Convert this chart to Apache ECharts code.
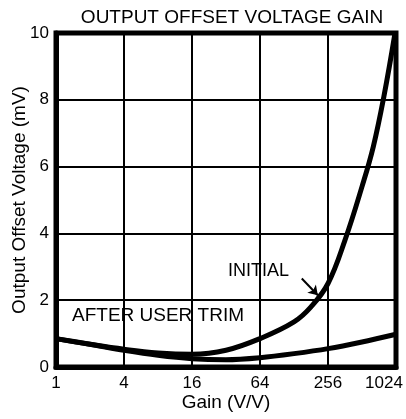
<!DOCTYPE html>
<html>
<head>
<meta charset="utf-8">
<script src="https://cdn.jsdelivr.net/npm/echarts@6/dist/echarts.min.js"></script>
<style>
html,body{margin:0;padding:0;background:#fff;}
#c{width:406px;height:419px;}
</style>
</head>
<body>
<div id="c"></div>
<script>
// Data
const titleText = 'OUTPUT OFFSET VOLTAGE GAIN';
const xTicks = [1, 4, 16, 64, 256, 1024];
const yTicks = [0, 2, 4, 6, 8, 10];
const initialGain = [1, 2, 4, 8, 16, 32, 64, 128, 181, 256, 362, 512, 645, 800, 1004];
const initialMv   = [0.85, 0.68, 0.53, 0.42, 0.38, 0.5, 0.85, 1.35, 1.8, 2.5, 3.8, 5.4, 6.6, 8.1, 10];
const trimGain = [1, 2, 4, 8, 16, 32, 64, 128, 256, 512, 1024];
const trimMv   = [0.85, 0.68, 0.5, 0.35, 0.25, 0.22, 0.28, 0.4, 0.55, 0.75, 0.98];
const labelInitial = 'INITIAL';
const labelTrim = 'AFTER USER TRIM';
const arrowFrom = [150, 2.65];
const arrowTo = [208, 2.15];

const font = '"Liberation Sans", Arial, sans-serif';
const maxTick = xTicks[xTicks.length - 1];
const chart = echarts.init(document.getElementById('c'));
chart.setOption({
  animation: false,
  title: {
    text: titleText, left: 227, top: 3, textAlign: 'center',
    textStyle: {fontFamily: font, fontSize: 19, fontWeight: 'normal', color: '#000'}
  },
  grid: {left: 56, right: 10, top: 33, bottom: 52, show: true, borderColor: '#000', borderWidth: 5,
    containLabel: false, outerBoundsMode: 'none'},
  xAxis: {
    type: 'log', logBase: 4, min: xTicks[0], max: maxTick,
    name: 'Gain (V/V)', nameLocation: 'middle', nameGap: 26, nameMoveOverlap: false,
    nameTextStyle: {fontFamily: font, fontSize: 19, color: '#000'},
    axisLine: {show: true, lineStyle: {color: '#000', width: 5}},
    axisTick: {show: false},
    axisLabel: {fontFamily: font, fontSize: 17, color: '#000', margin: 8,
      formatter: v => {
        const r = Math.round(v);
        return r === maxTick ? '{r|' + r + '}' : String(r);
      },
      rich: {r: {fontFamily: font, fontSize: 17, color: '#000', padding: [0, 24, 0, 0]}}
    },
    splitLine: {show: true, lineStyle: {color: '#000', width: 2}},
    minorTick: {show: false}
  },
  yAxis: {
    type: 'value', min: yTicks[0], max: yTicks[yTicks.length - 1], interval: 2,
    name: 'Output Offset Voltage (mV)', nameLocation: 'middle', nameGap: 27, nameMoveOverlap: false,
    nameTextStyle: {fontFamily: font, fontSize: 19, color: '#000'},
    axisLine: {show: true, lineStyle: {color: '#000', width: 5}},
    axisTick: {show: false},
    axisLabel: {fontFamily: font, fontSize: 17, color: '#000', margin: 7},
    splitLine: {show: true, lineStyle: {color: '#000', width: 2}}
  },
  series: [
    {
      type: 'line', name: 'Initial', smooth: 0.4, symbol: 'none', clip: true,
      data: initialGain.map((g, i) => [g, initialMv[i]]),
      lineStyle: {color: '#000', width: 5},
      markLine: {
        silent: true, symbol: ['none', 'arrow'], symbolSize: 9,
        lineStyle: {color: '#000', width: 2, type: 'solid'},
        label: {show: false},
        data: [[{coord: arrowFrom}, {coord: arrowTo}]]
      }
    },
    {
      type: 'line', name: 'Trim', smooth: 0.3, symbol: 'none',
      data: trimGain.map((g, i) => [g, trimMv[i]]),
      lineStyle: {color: '#000', width: 5}
    }
  ],
  graphic: [
    {type: 'text', left: 228, top: 262,
      style: {text: labelInitial, font: '18px ' + font, fill: '#000'}},
    {type: 'text', left: 72, top: 306,
      style: {text: labelTrim, font: '19px ' + font, fill: '#000'}}
  ]
});
</script>
</body>
</html>
